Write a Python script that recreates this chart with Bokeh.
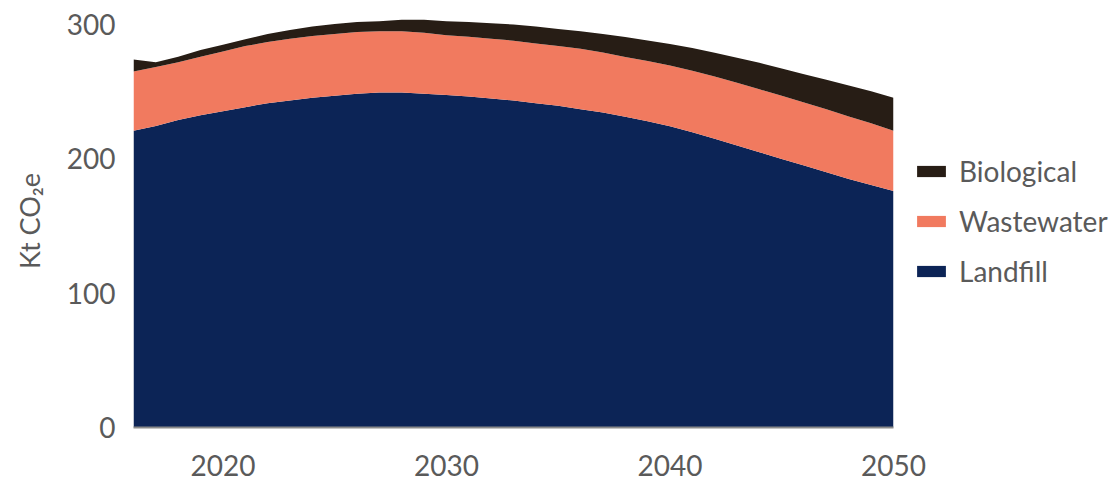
from bokeh.plotting import figure
from bokeh.models import ColumnDataSource, FixedTicker, Legend, LegendItem, Range1d
from bokeh.embed import file_html
from bokeh.resources import INLINE

years = list(range(2016, 2051))
landfill = [221, 224.5, 229, 232.5, 235.5, 238.5, 241.5, 243.5, 245.5, 247, 248.5, 249.5,
            249.5, 248.5, 247.5, 246.5, 245, 243.5, 241.5, 239.5, 237, 234.5, 231.3, 228,
            224.3, 219.8, 215, 210, 205, 200, 195, 190, 185, 180.5, 176]
wastewater = [44, 44, 43, 43.5, 44.5, 45.5, 45.5, 46, 46, 46, 46, 45.5, 45.5, 45.5, 44.5,
              44.5, 44.5, 44.5, 44.5, 44.5, 45, 44.7, 44.5, 44.8, 45.3, 45.8, 46.3, 46.6,
              46.8, 47, 47, 47, 46.5, 46, 45]
biological = [9, 3.5, 4, 5, 5, 5, 6, 6.5, 7, 7.5, 7.5, 7.5, 8.5, 9.5, 10.5, 11, 11.5, 12,
              12.5, 12.7, 13, 13.8, 14.9, 15.4, 15.9, 17.0, 17.7, 18.7, 19.7, 20.3, 21, 22,
              23.2, 23.8, 24.5]
series = ["Landfill", "Wastewater", "Biological"]
colors = ["#0C2456", "#F17A5F", "#271D15"]
x_ticks = [2020, 2030, 2040, 2050]
y_ticks = [0, 100, 200, 300]

source = ColumnDataSource(dict(year=years, Landfill=landfill, Wastewater=wastewater,
                               Biological=biological))

FONT = "Lato"
TXT = "#5a5a5a"

p = figure(frame_width=760, frame_height=413, output_backend="svg", toolbar_location=None,
           x_range=Range1d(2016, 2050), y_range=Range1d(0, 307.5),
           min_border_left=133, min_border_top=14, min_border_right=10, min_border_bottom=60)
p.outline_line_color = None
p.grid.visible = False
p.background_fill_color = "white"
p.border_fill_color = "white"

rs = p.varea_stack(series, x="year", source=source, color=colors)

p.xaxis.ticker = FixedTicker(ticks=x_ticks)
p.yaxis.ticker = FixedTicker(ticks=y_ticks)
for ax in (p.xaxis, p.yaxis):
    ax.major_tick_line_color = None
    ax.minor_tick_line_color = None
    ax.major_label_text_font = FONT
    ax.major_label_text_font_size = "28px"
    ax.major_label_text_color = TXT
p.xaxis.axis_line_color = "#8a8a8a"
p.xaxis.axis_line_width = 2
p.yaxis.axis_line_color = None
p.xaxis.major_label_standoff = 21
p.yaxis.major_label_standoff = 12
p.yaxis.axis_label = "Kt CO\u2082e"
p.yaxis.axis_label_text_font = FONT
p.yaxis.axis_label_text_font_size = "27px"
p.yaxis.axis_label_text_font_style = "normal"
p.yaxis.axis_label_text_color = TXT
p.yaxis.axis_label_standoff = 18

legend = Legend(items=[LegendItem(label="Biological", renderers=[rs[2]]),
                       LegendItem(label="Wastewater", renderers=[rs[1]]),
                       LegendItem(label="Landfill", renderers=[rs[0]])],
                location="center_left", border_line_color=None, background_fill_alpha=0,
                glyph_width=36, glyph_height=14, label_height=26, spacing=16,
                label_standoff=10, margin=20, padding=10,
                label_text_font=FONT, label_text_font_size="28px", label_text_color=TXT)
p.add_layout(legend, "right")

open("out.html", "w").write(file_html(p, INLINE))
